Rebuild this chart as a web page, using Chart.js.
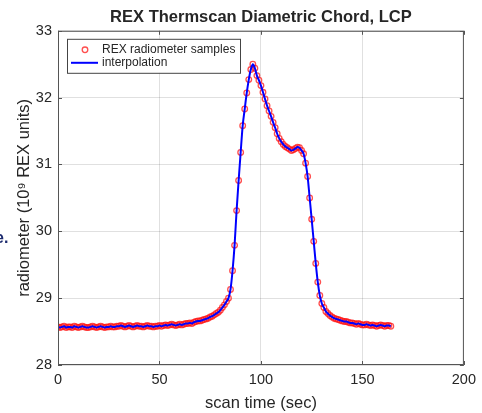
<!DOCTYPE html>
<html>
<head>
<meta charset="utf-8">
<script src="https://cdn.jsdelivr.net/npm/chart.js@4.4.0/dist/chart.umd.min.js"></script>
<style>
html, body { margin: 0; padding: 0; background: #fff; }
#wrap { position: relative; width: 482px; height: 413px; overflow: hidden; }
#stray { position: absolute; left: -5px; top: 229px; font: bold 16px "Liberation Sans", Arial, sans-serif; color: #1c2a6e; }
</style>
</head>
<body>
<div id="wrap">
  <canvas id="chart" width="482" height="413"></canvas>
  <div id="stray">e.</div>
</div>
<script>
// scan time of each radiometer sample (sec)
const scanTimes = [
  0, 1, 2, 3, 4, 5, 6, 7, 8, 9,
  10, 11, 12, 13, 14, 15, 16, 17, 18, 19,
  20, 21, 22, 23, 24, 25, 26, 27, 28, 29,
  30, 31, 32, 33, 34, 35, 36, 37, 38, 39,
  40, 41, 42, 43, 44, 45, 46, 47, 48, 49,
  50, 51, 52, 53, 54, 55, 56, 57, 58, 59,
  60, 61, 62, 63, 64, 65, 66, 67, 68, 69,
  70, 71, 72, 73, 74, 75, 76, 77, 78, 79,
  80, 81, 82, 83, 84, 85, 86, 87, 88, 89,
  90, 91, 92, 93, 94, 95, 96, 97, 98, 99,
  100, 101, 102, 103, 104, 105, 106, 107, 108, 109,
  110, 111, 112, 113, 114, 115, 116, 117, 118, 119,
  120, 121, 122, 123, 124, 125, 126, 127, 128, 129,
  130, 131, 132, 133, 134, 135, 136, 137, 138, 139,
  140, 141, 142, 143, 144, 145, 146, 147, 148, 149,
  150, 151, 152, 153, 154, 155, 156, 157, 158, 159,
  160, 161, 162, 163, 164
];

// radiometer reading (10^9 REX units)
const radiometer = [
  28.57, 28.56, 28.57, 28.58, 28.56, 28.57, 28.57, 28.56, 28.58, 28.57,
  28.56, 28.57, 28.58, 28.57, 28.56, 28.56, 28.57, 28.58, 28.57, 28.56,
  28.57, 28.58, 28.57, 28.56, 28.57, 28.57, 28.58, 28.57, 28.57, 28.58,
  28.58, 28.59, 28.58, 28.57, 28.58, 28.59, 28.58, 28.57, 28.58, 28.59,
  28.58, 28.58, 28.57, 28.58, 28.59, 28.58, 28.58, 28.57, 28.58, 28.58,
  28.59, 28.58, 28.59, 28.60, 28.59, 28.60, 28.61, 28.60, 28.59, 28.60,
  28.61, 28.60, 28.61, 28.62, 28.62, 28.63, 28.62, 28.64, 28.65, 28.66,
  28.66, 28.67, 28.68, 28.69, 28.70, 28.72, 28.73, 28.75, 28.77, 28.79,
  28.82, 28.86, 28.90, 28.95, 29.00, 29.13, 29.41, 29.79, 30.31, 30.76,
  31.18, 31.58, 31.83, 32.07, 32.27, 32.42, 32.50, 32.44, 32.33, 32.26,
  32.18, 32.08, 31.98, 31.88, 31.80, 31.72, 31.63, 31.55, 31.46, 31.39,
  31.34, 31.30, 31.27, 31.25, 31.23, 31.21, 31.22, 31.24, 31.26, 31.25,
  31.21, 31.16, 31.02, 30.82, 30.50, 30.18, 29.85, 29.52, 29.24, 29.04,
  28.92, 28.86, 28.80, 28.77, 28.74, 28.72, 28.70, 28.69, 28.68, 28.67,
  28.66, 28.65, 28.65, 28.64, 28.63, 28.63, 28.62, 28.61, 28.62, 28.61,
  28.60, 28.60, 28.61, 28.60, 28.59, 28.60, 28.59, 28.58, 28.59, 28.60,
  28.59, 28.58, 28.59, 28.59, 28.58
];

const seriesNames = ['REX radiometer samples', 'interpolation'];
const xTicks = [0, 50, 100, 150, 200];
const yTicks = [28, 29, 30, 31, 32, 33];

const FONT = '"Liberation Sans", Arial, Helvetica, sans-serif';
const TEXT = '#262626';

const points = scanTimes.map((t, i) => ({ x: t, y: radiometer[i] }));

// box, inward ticks and legend drawn like a MATLAB axes
const matlabAxes = {
  id: 'matlabAxes',
  afterDraw(chart) {
    const { ctx, chartArea: a, scales } = chart;
    ctx.save();
    ctx.strokeStyle = '#555';
    ctx.lineWidth = 1;
    ctx.strokeRect(a.left + 0.5, a.top + 0.5, a.right - a.left - 1, a.bottom - a.top - 1);
    ctx.beginPath();
    xTicks.forEach(v => {
      const px = Math.round(scales.x.getPixelForValue(v)) + 0.5;
      ctx.moveTo(px, a.top); ctx.lineTo(px, a.top + 4);
      ctx.moveTo(px, a.bottom); ctx.lineTo(px, a.bottom - 4);
    });
    yTicks.forEach(v => {
      const py = Math.round(scales.y.getPixelForValue(v)) + 0.5;
      ctx.moveTo(a.left, py); ctx.lineTo(a.left + 4, py);
      ctx.moveTo(a.right, py); ctx.lineTo(a.right - 4, py);
    });
    ctx.stroke();

    // legend
    const lx = a.left + 9, ly = a.top + 8, lw = 173, lh = 34;
    ctx.fillStyle = '#fff';
    ctx.fillRect(lx, ly, lw, lh);
    ctx.strokeStyle = '#444';
    ctx.strokeRect(lx + 0.5, ly + 0.5, lw, lh);
    const samples = chart.data.datasets[1];
    const interp = chart.data.datasets[0];
    ctx.beginPath();
    ctx.arc(lx + 18, ly + 11, samples.pointRadius, 0, Math.PI * 2);
    ctx.strokeStyle = samples.pointBorderColor;
    ctx.lineWidth = samples.pointBorderWidth;
    ctx.stroke();
    ctx.beginPath();
    ctx.moveTo(lx + 4, ly + 24);
    ctx.lineTo(lx + 31, ly + 24);
    ctx.strokeStyle = interp.borderColor;
    ctx.lineWidth = interp.borderWidth;
    ctx.stroke();
    ctx.fillStyle = TEXT;
    ctx.font = '12px ' + FONT;
    ctx.textBaseline = 'middle';
    ctx.fillText(samples.label, lx + 35, ly + 11);
    ctx.fillText(interp.label, lx + 35, ly + 24);
    ctx.restore();
  }
};

new Chart(document.getElementById('chart'), {
  type: 'line',
  data: {
    datasets: [
      {
        label: seriesNames[1],
        data: points,
        borderColor: '#0000ff',
        borderWidth: 2,
        pointRadius: 0,
        fill: false,
        cubicInterpolationMode: 'monotone'
      },
      {
        label: seriesNames[0],
        data: points,
        showLine: false,
        pointStyle: 'circle',
        pointRadius: 2.8,
        pointBorderWidth: 1.3,
        pointBorderColor: 'rgba(255,20,20,0.75)',
        pointBackgroundColor: 'rgba(0,0,0,0)'
      }
    ]
  },
  options: {
    responsive: false,
    animation: false,
    devicePixelRatio: 1,
    layout: { padding: { left: 0, right: 15, top: 0, bottom: 0 } },
    plugins: {
      legend: { display: false },
      tooltip: { enabled: false },
      title: {
        display: true,
        text: 'REX Thermscan Diametric Chord, LCP',
        fullSize: false,
        color: TEXT,
        font: { family: FONT, size: 16.5, weight: 'bold' },
        padding: { top: 8, bottom: 3 }
      }
    },
    scales: {
      x: {
        type: 'linear',
        min: 0,
        max: 200,
        afterFit: s => { s.height = 48; },
        afterBuildTicks: s => { s.ticks = xTicks.map(v => ({ value: v })); },
        grid: { color: 'rgba(0,0,0,0.12)', drawTicks: false },
        border: { display: false },
        ticks: { color: TEXT, padding: 6, font: { family: FONT, size: 14.5 } },
        title: {
          display: true,
          text: 'scan time (sec)',
          color: TEXT,
          font: { family: FONT, size: 16.5 },
          padding: { top: 2, bottom: 0 }
        }
      },
      y: {
        type: 'linear',
        min: 28,
        max: 33,
        afterFit: s => { s.width = 58; },
        afterBuildTicks: s => { s.ticks = yTicks.map(v => ({ value: v })); },
        grid: { color: 'rgba(0,0,0,0.12)', drawTicks: false },
        border: { display: false },
        ticks: { color: TEXT, padding: 6, font: { family: FONT, size: 14.5 } },
        title: {
          display: true,
          text: 'radiometer (10\u2079 REX units)',
          color: TEXT,
          font: { family: FONT, size: 16.5 },
          padding: { top: 15, bottom: 0 }
        }
      }
    }
  },
  plugins: [matlabAxes]
});
</script>
</body>
</html>
